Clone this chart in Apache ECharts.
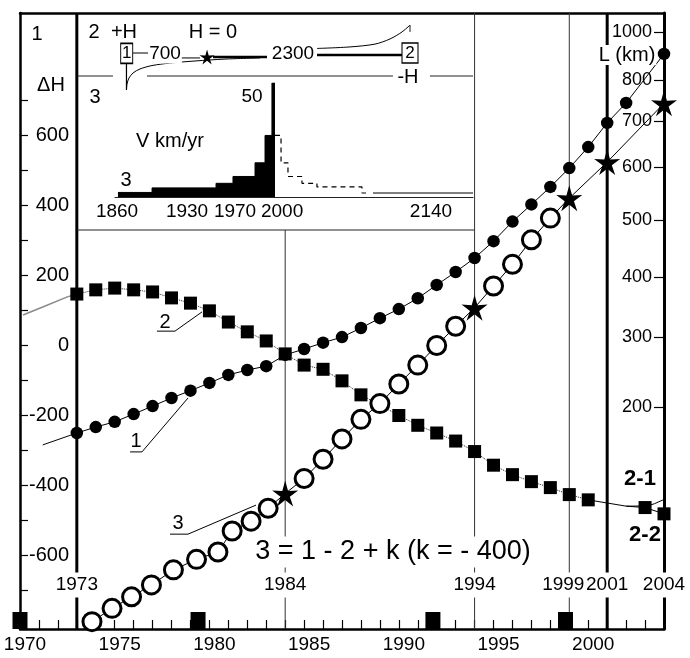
<!DOCTYPE html>
<html>
<head>
<meta charset="utf-8">
<script src="https://cdn.jsdelivr.net/npm/echarts@6/dist/echarts.min.js"></script>
<style>
  html, body { margin: 0; background: #fff; }
  #chart { width: 690px; height: 658px; }
</style>
</head>
<body>
<div id="chart"></div>
<script>
// ---- main panel data (years, values in ΔH units of the left axis) ----
// curve 1, filled circles (no point drawn at 2003)
var years1 = [1973, 1974, 1975, 1976, 1977, 1978, 1979, 1980, 1981, 1982, 1983, 1984, 1985, 1986, 1987,
  1988, 1989, 1990, 1991, 1992, 1993, 1994, 1995, 1996, 1997, 1998, 1999, 2000, 2001, 2002, 2004];
var values1 = [-250, -233, -218, -196, -173, -150, -129, -107, -84, -70, -59, -27, -10, 8, 24,
  50, 78, 104, 135, 173, 210, 250, 298, 354, 403, 453, 507, 567, 636, 693, 833];
var lead1Years = [1971.2];
var lead1Values = [-284];

// curve 2, filled squares
var years2 = [1973, 1974, 1975, 1976, 1977, 1978, 1979, 1980, 1981, 1982, 1983, 1984, 1985, 1986, 1987,
  1988, 1989, 1990, 1991, 1992, 1993, 1994, 1995, 1996, 1997, 1998, 1999, 2000, 2003, 2004];
var values2 = [147, 159, 164, 159, 153, 136, 121, 99, 67, 39, 13, -24, -56, -68, -101,
  -141, -170, -200, -228, -250, -273, -303, -342, -369, -389, -406, -426, -441, -463, -481];
var lead2Years = [1970.16, 1971.2, 1972.5, 1973];
var lead2Values = [87, 110, 139, 147];
var trend2Years = [2001, 2002];
var trend2Values = [-450, -459];
var tail22Years = [2005.2];
var tail22Values = [-490];
var branch21Years = [2002, 2003, 2004, 2005.2];
var branch21Values = [-459, -458, -440, -410];

// curve 3 = 1 - 2 + k, open circles and stars
var years3 = [1973.8, 1974.86, 1975.89, 1976.94, 1978.1, 1979.32, 1980.45, 1981.2, 1982.2, 1983.1,
  1985, 1986, 1987, 1988, 1989, 1990, 1991, 1992, 1993, 1995, 1996, 1997, 1998];
var values3 = [-789, -751, -718, -684, -641, -611, -590, -530, -502, -465,
  -380, -325, -267, -211, -166, -110, -56, 0, 55, 170, 232, 302, 364];
var starYears = [1984, 1994, 1999, 2001, 2004];
var starValues = [-423, 108, 421, 524, 692];
var tail3Years = [2004.85];
var tail3Values = [749];

var markYears = [1973, 1984, 1994, 1999, 2001, 2004];
var blockYears = [1970, 1979.4, 1991.8, 1998.8];

// callout leaders for the curve numbers
var call1Years = [1975.81, 1976.44, 1978.87], call1Values = [-304, -304, -150];
var call2Years = [1977.23, 1978.18, 1979.61], call2Values = [41, 41, 96];
var call3Years = [1977.92, 1978.87, 1982.46], call3Values = [-539, -539, -456];

// right axis L (km): labels and where they sit on the ΔH scale
var lLabels = [200, 300, 400, 500, 600, 700, 800, 1000];
var lPos = [-176, 24, 196, 359, 509, 641, 759, 896];

// ---- inset 3: V km/yr ----
var stepYears = [1863.6, 1893.6, 1949.9, 1964.8, 1984.2, 1993.0, 1999.1, 2001.8];
var stepValues = [2, 4, 6, 9, 15, 27, 50, 50];
var forecastYears = [2001.8, 2007.1, 2013.2, 2025.5, 2038.7, 2078.3, 2081.9];
var forecastValues = [27, 15, 9, 6, 4.4, 1.75, 1.75];
var tailYears = [2088, 2176];
var tailValues = [1.75, 1.75];
var insetLabels = ['1860', '1930', '1970', '2000', '2140'];
var insetLabelPos = [1862.8, 1924.4, 1966.6, 2008.0, 2139.0];

// ---- inset 2: H profile sketch ----
var minusHSegs = [[1828, 1858.8], [1888.8, 2105.5], [2138.1, 2176]];
var profileX = [1870.7, 1871.2, 1872.9, 1876.5, 1882.6, 1893.2, 1909.1, 1931.1, 1957.5, 1988.4];
var profileH = [-1.74, -1.42, -1.11, -0.84, -0.63, -0.45, -0.32, -0.21, -0.11, -0.05];
var stemX = [1870.7, 1870.7], stemH = [-0.32, -1.74];
var rimX = [2038.6, 2067.6, 2089.7, 2102.9, 2113.5, 2119.6, 2120.5, 2120.5];
var rimH = [0.45, 0.53, 0.68, 0.95, 1.32, 1.63, 1.68, 1.32];
var levelThick = [[1946.9, 1994.5, 0], [2038.6, 2113.5, 0.1]];
var levelThin = [[1876.5, 1889.7, 0.21], [1917.9, 1935.5, -0.05]];
var boxX = [1870.9, 2120.5], boxH = [0.19, 0.21], boxText = ['1', '2'];
var sketchStar = [1941.7, 0];

// ---- layout ----
var Y_MIN = -810, Y_MAX = 950;
var INSET_BOTTOM = 330;
var LABEL_Y = -684;

var FONT = '"Liberation Sans", Arial, sans-serif';
var NUM = 19; // size of the numeric labels
var STAR = 'path://M50 0L60.6 36.3L97.6 34.5L67 56.4L79.4 90.5L50 68L20.6 90.5L33 56.4L2.4 34.5L39.4 36.3Z';

function pairs(xs, ys) {
  return xs.map(function (x, i) { return [x, ys[i]]; });
}
function byX(a, b) { return a[0] - b[0]; }
function range(a, b, step) {
  var r = [];
  for (var v = a; v <= b + 1e-9; v += step) r.push(v);
  return r;
}
function nearest(arr, v) {
  var best = 0;
  arr.forEach(function (a, i) { if (Math.abs(a - v) < Math.abs(arr[best] - v)) best = i; });
  return best;
}
function line(data, style, extra) {
  return Object.assign({
    type: 'line', data: data, symbol: 'none', silent: true, clip: false,
    xAxisIndex: 0, yAxisIndex: 0, z: 2,
    lineStyle: Object.assign({color: '#000', width: 1}, style)
  }, extra || {});
}
function dots(data, symbol, size, itemStyle, extra) {
  return Object.assign({
    type: 'scatter', xAxisIndex: 0, yAxisIndex: 0, silent: true, z: 3, clip: false,
    data: data, symbol: symbol, symbolSize: size,
    itemStyle: Object.assign({color: '#000', opacity: 1}, itemStyle || {})
  }, extra || {});
}

var series = [];

// vertical year lines
markYears.forEach(function (yr) {
  if (yr === 2004) return; // that one is the right axis
  var thick = (yr === 1973 || yr === 2001);
  var top = (yr === 1984) ? INSET_BOTTOM : Y_MAX;
  series.push(line([[yr, Y_MIN], [yr, top]], {width: thick ? 3 : 1, color: thick ? '#000' : '#333'}, {z: 1}));
});
// inset frame bottom
series.push(line([[1973, INSET_BOTTOM], [1994, INSET_BOTTOM]], {width: 1, color: '#222'}, {z: 1}));

// curve lines
series.push(line(pairs(lead1Years, lead1Values).concat(pairs(years1, values1)), {width: 1}));
series.push(line(pairs(lead2Years, lead2Values), {width: 1.5, color: '#8a8a8a'}));
series.push(line(pairs(years2, values2).filter(function (p) { return p[0] <= 2000; }), {width: 1, type: 'dotted', color: '#222'}));
series.push(line(pairs(years2, values2).filter(function (p) { return p[0] >= 2000; })
  .concat(pairs(trend2Years, trend2Values), pairs(tail22Years, tail22Values)).sort(byX), {width: 1}));
series.push(line(pairs(branch21Years, branch21Values), {width: 1}, {smooth: 0.4}));
series.push(line(pairs(years3, values3).concat(pairs(starYears, starValues), pairs(tail3Years, tail3Values)).sort(byX), {width: 1}));

// callouts
[[call1Years, call1Values], [call2Years, call2Values], [call3Years, call3Values]].forEach(function (c) {
  series.push(line(pairs(c[0], c[1]), {width: 1}));
});

// markers
series.push(dots(pairs(years1, values1), 'circle', 12.5));
series.push(dots(pairs(years2, values2), 'rect', 13));
series.push(dots(pairs(years3, values3), 'circle', 18, {color: '#fff', borderColor: '#000', borderWidth: 3}));
series.push(dots(pairs(starYears, starValues), STAR, 26));
series.push(dots(blockYears.map(function (y) { return [y, Y_MIN]; }), 'rect', [15, 17], null,
  {symbolOffset: [0, -8.5]}));

// year labels over the vertical lines
series.push(dots(markYears.map(function (y) {
  var d = {value: [y, LABEL_Y]};
  if (y === 1999) d.label = {offset: [-6, 0]};
  return d;
}), 'circle', 0, null, {
  z: 4,
  label: {
    show: true, position: 'inside', color: '#000', fontFamily: FONT, fontSize: NUM,
    textBorderWidth: 0, backgroundColor: '#fff', padding: [3, 1],
    formatter: function (p) { return String(p.value[0]); }
  }
}));

// ---- inset 2 sketch ----
function sk(data, style, extra) {
  return line(data, style, Object.assign({xAxisIndex: 2, yAxisIndex: 2}, extra || {}));
}
minusHSegs.forEach(function (s) { series.push(sk([[s[0], -1], [s[1], -1]], {width: 1, color: '#222'})); });
series.push(sk(pairs(profileX, profileH), {width: 1}, {smooth: 0.3}));
series.push(sk(pairs(stemX, stemH), {width: 1.2}));
series.push(sk(pairs(rimX, rimH), {width: 1}, {smooth: 0.3}));
levelThick.forEach(function (s) { series.push(sk([[s[0], s[2]], [s[1], s[2]]], {width: 2.5})); });
levelThin.forEach(function (s) { series.push(sk([[s[0], s[2]], [s[1], s[2]]], {width: 1})); });
series.push(dots([sketchStar], STAR, 15, null, {xAxisIndex: 2, yAxisIndex: 2}));
series.push(dots(boxX.map(function (x, i) {
  return {value: [x, boxH[i]], symbolSize: i === 0 ? [12, 20] : [16, 20], name: boxText[i]};
}), 'rect', 12, {color: '#fff', borderColor: '#000', borderWidth: 1.2}, {
  xAxisIndex: 2, yAxisIndex: 2,
  label: {show: true, position: 'inside', formatter: '{b}', color: '#000', fontFamily: FONT, fontSize: 17, textBorderWidth: 0}
}));

// ---- inset 3 bars ----
series.push({
  type: 'line', xAxisIndex: 3, yAxisIndex: 3, silent: true, symbol: 'none', step: 'end',
  data: pairs(stepYears, stepValues),
  lineStyle: {color: '#000', width: 1}, areaStyle: {color: '#000', opacity: 1}
});
series.push({
  type: 'line', xAxisIndex: 3, yAxisIndex: 3, silent: true, symbol: 'none', step: 'end',
  data: pairs(forecastYears, forecastValues),
  lineStyle: {color: '#000', width: 1.2, type: [5, 4]}
});
series.push({
  type: 'line', xAxisIndex: 3, yAxisIndex: 3, silent: true, symbol: 'none',
  data: pairs(tailYears, tailValues),
  lineStyle: {color: '#000', width: 1}
});

// ---- texts ----
function txt(x, y, s, size, extra) {
  return {
    type: 'text', x: x, y: y, z: 10, silent: true,
    style: Object.assign({
      text: s, fontSize: size, fontFamily: FONT, fill: '#000',
      align: 'center', verticalAlign: 'middle'
    }, extra || {})
  };
}
var texts = [
  txt(37, 34, '1', 20),
  txt(51, 85, '\u0394H', 20),
  txt(94, 32, '2', 20),
  txt(124, 32, '+H', 20),
  txt(213, 32, 'H = 0', 20),
  txt(165, 54, '700', NUM, {backgroundColor: '#fff', padding: [0, 1]}),
  txt(293, 54, '2300', NUM, {backgroundColor: '#fff', padding: [0, 1]}),
  txt(408, 77, '-H', 20),
  txt(95, 97, '3', 20),
  txt(252, 97, '50', NUM),
  txt(170, 141, 'V km/yr', 20),
  txt(126, 180, '3', 20),
  txt(627, 55, 'L (km)', 20, {backgroundColor: '#fff', padding: [0, 1]}),
  txt(640, 479, '2-1', 22, {fontWeight: 'bold'}),
  txt(645, 535, '2-2', 22, {fontWeight: 'bold'}),
  txt(393, 552, '3 = 1 - 2 + k (k = - 400)', 27, {backgroundColor: '#fff', padding: [2, 4]}),
  txt(136, 441, '1', 20),
  txt(165, 322, '2', 20),
  txt(178, 523, '3', 20)
];

var option = {
  animation: false,
  backgroundColor: '#fff',
  grid: [
    {left: 20, right: 26, top: 13, bottom: 29},
    {left: 78, top: 19, width: 395, height: 76},
    {left: 115, top: 83, width: 358, height: 114}
  ],
  xAxis: [{
    type: 'value', gridIndex: 0, position: 'bottom', min: 1970, max: 2004, interval: 1,
    splitLine: {show: false},
    axisLine: {onZero: false, lineStyle: {color: '#000', width: 2.5}},
    axisTick: {inside: true, length: 9, customValues: range(1971, 2003, 1), lineStyle: {color: '#000', width: 1.2}},
    axisLabel: {
      customValues: range(1970, 2000, 5), color: '#000', fontFamily: FONT, fontSize: NUM, margin: 6,
      padding: [0, 0, 0, 10], formatter: function (v) { return String(v); }
    }
  }, {
    type: 'value', gridIndex: 0, position: 'top', min: 1970, max: 2004,
    splitLine: {show: false}, axisTick: {show: false}, axisLabel: {show: false},
    axisLine: {onZero: false, lineStyle: {color: '#000', width: 2.5}}
  }, {
    type: 'value', gridIndex: 1, min: 1828, max: 2176, show: false
  }, {
    type: 'value', gridIndex: 2, min: 1861, max: 2176,
    splitLine: {show: false}, axisTick: {show: false},
    axisLine: {onZero: false, lineStyle: {color: '#222', width: 1.2}},
    axisLabel: {
      customValues: insetLabelPos, color: '#000', fontFamily: FONT, fontSize: NUM, margin: 5,
      formatter: function (v) { return insetLabels[nearest(insetLabelPos, v)]; }
    }
  }],
  yAxis: [{
    type: 'value', gridIndex: 0, position: 'left', min: Y_MIN, max: Y_MAX,
    splitLine: {show: false},
    axisLine: {onZero: false, lineStyle: {color: '#000', width: 2.5}},
    axisTick: {inside: true, length: 8, customValues: range(-700, 700, 100), lineStyle: {color: '#000', width: 1.2}},
    axisLabel: {inside: true, customValues: range(-600, 600, 200), align: 'right', margin: 49,
      color: '#000', fontFamily: FONT, fontSize: 20, formatter: function (v) { return String(v); }}
  }, {
    type: 'value', gridIndex: 0, position: 'right', min: Y_MIN, max: Y_MAX,
    splitLine: {show: false},
    axisLine: {onZero: false, lineStyle: {color: '#000', width: 3}},
    axisTick: {inside: true, length: 10, customValues: lPos, lineStyle: {color: '#000', width: 1.2}},
    axisLabel: {
      inside: true, customValues: lPos, margin: 12, color: '#000', fontFamily: FONT, fontSize: 18,
      formatter: function (v) { return String(lLabels[nearest(lPos, v)]); }
    }
  }, {
    type: 'value', gridIndex: 1, min: -2, max: 2, show: false
  }, {
    type: 'value', gridIndex: 2, min: 0, max: 50, show: false
  }],
  graphic: {elements: texts},
  series: series
};

var chart = echarts.init(document.getElementById('chart'));
chart.setOption(option);
</script>
</body>
</html>
